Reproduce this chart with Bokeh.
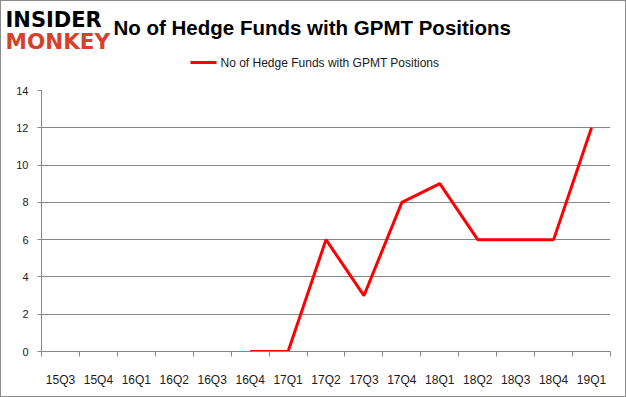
from bokeh.plotting import figure
from bokeh.models import Range1d, FixedTicker
from bokeh.layouts import column
from bokeh.core.properties import value
from bokeh.embed import file_html
from bokeh.resources import INLINE

quarters = ["15Q3", "15Q4", "16Q1", "16Q2", "16Q3", "16Q4", "17Q1", "17Q2",
            "17Q3", "17Q4", "18Q1", "18Q2", "18Q3", "18Q4", "19Q1"]
funds = [None, None, None, None, None, 0, 0, 6, 3, 8, 9, 6, 6, 6, 12]
y_ticks = [0, 2, 4, 6, 8, 10, 12, 14]
series_name = "No of Hedge Funds with GPMT Positions"
title_text = "No of Hedge Funds with GPMT Positions"
logo_top = "INSIDER"
logo_bottom = "MONKEY"

GRAY = "#868686"
RED = "#ff0000"
W = 624

# ---------------- header (logo, title, legend) ----------------
h = figure(width=W, height=79, output_backend="svg", toolbar_location=None,
           title=None, x_range=Range1d(0, W), y_range=Range1d(79, 0),
           min_border=0, x_axis_type=None, y_axis_type=None)
if "frame_align" in h.properties():
    h.frame_align = False
h.outline_line_color = None
h.grid.grid_line_color = None
h.background_fill_color = "white"
h.border_fill_color = "white"

h.text(x=[4], y=[18], text=[logo_top], text_font=value("DejaVu Sans"),
       text_font_style="bold", text_font_size="21px", text_baseline="middle",
       text_color="black")
h.text(x=[4], y=[40], text=[logo_bottom], text_font=value("DejaVu Sans"),
       text_font_style="bold", text_font_size="21.5px", text_baseline="middle",
       text_color="#d6412a")
h.text(x=[112], y=[26], text=[title_text], text_font=value("Liberation Sans"),
       text_font_style="bold", text_font_size="20.5px", text_baseline="middle",
       text_color="black")
# legend swatch + label
h.segment(x0=[189], y0=[61], x1=[215], y1=[61], line_color=RED, line_width=3)
h.text(x=[219], y=[61], text=[series_name], text_font=value("Liberation Sans"),
       text_font_size="12px", text_baseline="middle", text_color="#1a1a1a")

# ---------------- main chart ----------------
xs = [i + 0.5 for i in range(len(quarters))]
ys = [float("nan") if v is None else v for v in funds]

p = figure(width=W, height=316, output_backend="svg", toolbar_location=None,
           title=None, x_range=Range1d(0, len(quarters)), y_range=Range1d(0, 14),
           min_border_left=40, min_border_right=15, min_border_top=10,
           min_border_bottom=45)
if "frame_align" in p.properties():
    p.frame_align = False
p.outline_line_color = None
p.background_fill_color = "white"
p.border_fill_color = "white"

p.xaxis.ticker = FixedTicker(ticks=xs, minor_ticks=list(range(len(quarters) + 1)))
p.xaxis.major_label_overrides = {x: q for x, q in zip(xs, quarters)}
p.xaxis.major_tick_line_color = None
p.xaxis.major_tick_out = 0
p.xaxis.major_tick_in = 0
p.xaxis.minor_tick_line_color = GRAY
p.xaxis.minor_tick_out = 5
p.xaxis.minor_tick_in = 0
p.xaxis.axis_line_color = GRAY
p.xaxis.major_label_standoff = 16
p.xaxis.major_label_text_font_size = "12px"
p.xgrid.grid_line_color = None

p.yaxis.ticker = FixedTicker(ticks=y_ticks)
p.yaxis.minor_tick_line_color = None
p.yaxis.major_tick_line_color = GRAY
p.yaxis.major_tick_out = 4
p.yaxis.major_tick_in = 0
p.yaxis.axis_line_color = GRAY
p.yaxis.major_label_standoff = 9
p.yaxis.major_label_text_font_size = "11px"
p.ygrid.grid_line_color = GRAY
p.ygrid.ticker = FixedTicker(ticks=y_ticks)

for ax in (p.xaxis, p.yaxis):
    ax.major_label_text_font = "Liberation Sans"
    ax.major_label_text_color = "#1a1a1a"

p.line(xs, ys, line_color=RED, line_width=3)

layout = column(h, p, spacing=0)
layout.styles = {"border": "1px solid #8c8c8c"}

open("out.html", "w").write(file_html(layout, INLINE))
